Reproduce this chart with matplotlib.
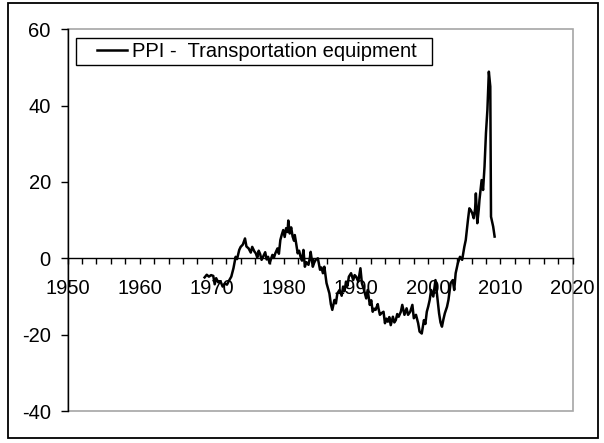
import matplotlib
matplotlib.use("Agg")
from matplotlib import pyplot as plt
from matplotlib.legend_handler import HandlerLine2D
from matplotlib.lines import Line2D
from matplotlib.patches import Rectangle
from matplotlib.ticker import MultipleLocator

plt.rcParams["font.family"] = ["Liberation Sans", "DejaVu Sans"]
plt.rcParams["axes.unicode_minus"] = False

# (fractional year, % change)
years = [
    1969.0, 1969.3, 1969.6, 1969.9, 1970.2, 1970.4, 1970.6, 1970.9, 1971.2, 1971.5,
    1971.8, 1972.1, 1972.4, 1972.7, 1973.0, 1973.3, 1973.5, 1973.8, 1974.0, 1974.3,
    1974.6, 1974.8, 1975.1, 1975.4, 1975.6, 1975.9, 1976.1, 1976.3, 1976.5, 1976.7,
    1976.9, 1977.2, 1977.4, 1977.6, 1977.8, 1978.0, 1978.2, 1978.4, 1978.6, 1978.8,
    1979.1, 1979.3, 1979.5, 1979.7, 1979.9, 1980.1, 1980.3, 1980.5, 1980.6, 1980.8,
    1981.0, 1981.2, 1981.4, 1981.5, 1981.7, 1981.9, 1982.1, 1982.3, 1982.5, 1982.7,
    1982.9, 1983.1, 1983.4, 1983.6, 1983.7, 1984.0, 1984.2, 1984.4, 1984.7, 1985.0,
    1985.2, 1985.4, 1985.6, 1985.9, 1986.1, 1986.3, 1986.5, 1986.7, 1987.0, 1987.2,
    1987.4, 1987.7, 1988.0, 1988.2, 1988.4, 1988.6, 1988.8, 1989.0, 1989.3, 1989.6,
    1989.8, 1990.0, 1990.3, 1990.6, 1990.8, 1991.1, 1991.4, 1991.6, 1991.9, 1992.1,
    1992.3, 1992.5, 1992.7, 1993.0, 1993.1, 1993.3, 1993.5, 1993.8, 1994.0, 1994.2,
    1994.4, 1994.6, 1994.8, 1995.1, 1995.3, 1995.5, 1995.7, 1995.9, 1996.2, 1996.4,
    1996.7, 1997.0, 1997.2, 1997.5, 1997.8, 1998.0, 1998.3, 1998.6, 1998.8, 1999.1,
    1999.4, 1999.6, 1999.8, 2000.0, 2000.2, 2000.4, 2000.7, 2001.0, 2001.2, 2001.5,
    2001.7, 2001.9, 2002.1, 2002.3, 2002.6, 2002.8, 2003.1, 2003.4, 2003.6, 2003.8,
    2004.1, 2004.4, 2004.7, 2005.0, 2005.2, 2005.5, 2005.7, 2005.9, 2006.1, 2006.3,
    2006.5, 2006.6, 2006.8, 2007.0, 2007.1, 2007.4, 2007.6, 2007.8, 2008.0, 2008.2,
    2008.4, 2008.6, 2008.7, 2009.0, 2009.2,
]
ppi = [
    -5.0, -4.3, -4.8, -4.4, -4.6, -6.8, -5.2, -6.3, -6.0, -7.4,
    -6.6, -6.9, -5.8, -4.8, -2.6, 0.4, -0.2, 2.2, 3.0, 3.6,
    5.2, 3.1, 2.6, 1.5, 3.0, 1.8, 1.3, 0.2, 2.0, 1.1,
    -0.4, 0.8, 1.6, -0.3, 0.4, -1.3, -0.2, 0.9, 0.1, 1.3,
    2.6, 1.2, 4.8, 6.2, 7.4, 5.6, 7.9, 6.9, 9.9, 6.5,
    8.1, 5.7, 4.6, 6.1, 3.8, 1.3, 2.0, 0.4, -0.6, 2.2,
    -2.2, -1.0, -1.7, 0.2, 1.7, -2.2, -1.1, -0.4, 0.0, -3.0,
    -2.4, -3.9, -2.2, -6.5, -7.8, -9.2, -12.0, -13.5, -10.9, -11.8,
    -9.2, -8.3, -9.8, -7.4, -8.6, -6.1, -7.2, -4.8, -3.9, -5.7,
    -4.4, -4.8, -6.1, -2.6, -6.5, -8.3, -10.5, -8.3, -12.2, -11.0,
    -14.0, -13.2, -13.5, -12.0, -13.1, -14.8, -14.4, -14.0, -17.0, -15.8,
    -16.6, -15.4, -17.5, -15.3, -16.8, -16.2, -14.6, -15.3, -14.0, -12.2,
    -14.8, -13.1, -14.8, -14.0, -12.2, -15.7, -14.8, -17.0, -19.2, -19.7,
    -16.2, -17.2, -14.0, -12.6, -10.9, -8.3, -10.0, -5.7, -9.2, -14.4,
    -16.8, -17.9, -16.0, -14.4, -12.7, -10.9, -6.5, -5.7, -8.3, -3.9,
    -1.3, 0.4, -0.4, 3.0, 4.8, 10.0, 13.1, 12.6, 11.8, 10.5,
    13.0, 17.0, 9.2, 12.8, 15.3, 20.5, 17.9, 24.0, 32.8, 38.9,
    48.9, 45.0, 10.9, 8.3, 5.7,
]
series_label = "PPI -  Transportation equipment"

fig = plt.figure(figsize=(6.04, 4.43), dpi=100)
ax = fig.add_axes([0.1118, 0.0722, 0.8361, 0.8617])

ax.plot(years, ppi, color="black", lw=1.8, label=series_label)

ax.set_xlim(1950, 2020)
ax.set_ylim(-40, 60)
ax.xaxis.set_major_locator(MultipleLocator(10))
ax.xaxis.set_minor_locator(MultipleLocator(2))
ax.yaxis.set_major_locator(MultipleLocator(20))

# plot-area border in grey, axes in black
ax.add_patch(Rectangle((0, 0), 1, 1, transform=ax.transAxes, fill=False,
                       edgecolor="#a6a6a6", lw=1.2, zorder=0.5, clip_on=False))
ax.spines["top"].set_visible(False)
ax.spines["right"].set_visible(False)
ax.spines["bottom"].set_position(("data", 0))
ax.spines["bottom"].set_linewidth(1.0)
ax.spines["left"].set_linewidth(1.0)

ax.tick_params(axis="x", which="both", direction="out", length=4, width=1,
               labelsize=14.5, pad=11)
ax.tick_params(axis="y", direction="out", length=5, width=1, labelsize=14.5, pad=7)

# legend: short line indented from the box edge, as in the Excel original
leg = ax.legend(loc="upper left", bbox_to_anchor=(0.0168, 0.977),
                borderaxespad=0, fancybox=False, framealpha=1, fontsize=14.5,
                handlelength=2.35, handletextpad=0.25, borderpad=0.2,
                handler_map={Line2D: HandlerLine2D(xpad=0.85)})
leg.get_texts()[0].set_text(series_label + "  ")
leg.get_frame().set_edgecolor("black")
leg.get_frame().set_linewidth(1.0)

# outer chart-area border
fig.add_artist(Rectangle((0.0132, 0.0113), 0.9768, 0.9819, transform=fig.transFigure,
                         fill=False, edgecolor="black", lw=1.3))

fig.savefig("out.png", dpi=100)
plt.close(fig)
